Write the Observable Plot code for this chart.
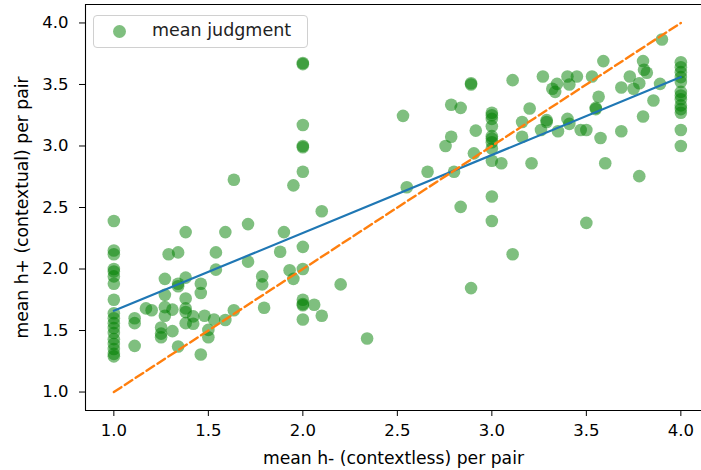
<!DOCTYPE html>
<html>
<head>
<meta charset="utf-8">
<script src="https://cdn.jsdelivr.net/npm/d3@7"></script>
<script src="https://cdn.jsdelivr.net/npm/@observablehq/plot@0.6"></script>
<style>
  html, body { margin: 0; padding: 0; background: #fff; }
  #wrap { position: relative; width: 701px; height: 470px; overflow: hidden; font-family: "DejaVu Sans", sans-serif; }
  #legend { position: absolute; left: 93px; top: 15px; width: 215px; height: 33px; box-sizing: border-box;
    border: 1px solid #d0d0d0; border-radius: 4px; background: rgba(255,255,255,0.8); }
  #legend .dot { position: absolute; left: 19px; top: 9px; width: 13px; height: 13px; border-radius: 50%; background: rgba(0,128,0,0.5); }
  #legend .lab { position: absolute; left: 58px; top: 4px; font-size: 17.5px; color: #222; white-space: nowrap; }
</style>
</head>
<body>
<div id="wrap">
  <div id="chart"></div>
  <div id="legend"><div class="dot"></div><div class="lab">mean judgment</div></div>
</div>
<script>
// mean h- (contextless) per pair
const hMinus = [
 1,1,1,1,1,1,1,1,1,1,1,1,1,1,1,1,1,1,
 1.11,1.11,1.11, 1.17, 1.2, 1.25,1.25,1.25, 1.27,1.27,1.27,1.27, 1.29, 1.31,1.31, 1.34,1.34,1.34,1.34,
 1.38,1.38,1.38,1.38,1.38,1.38, 1.42,1.42, 1.46,1.46,1.46, 1.48, 1.5,1.5, 1.53, 1.54,1.54, 1.59,1.59,
 1.635,1.635, 1.71,1.71, 1.785,1.785, 1.795, 1.88, 1.9, 1.93, 1.95,1.95,
 2,2,2,2,2,2,2,2,2,2,2,2, 2.06, 2.1,2.1, 2.2, 2.34, 2.53, 2.55, 2.66, 2.755, 2.785,2.785, 2.8, 2.835,2.835,
 2.89,2.89,2.89, 2.905, 2.915,
 3,3,3,3,3,3,3,3,3,3,3, 3.05, 3.11,3.11, 3.16,3.16, 3.2, 3.21, 3.26, 3.27, 3.29,3.29, 3.32, 3.335, 3.345, 3.35,
 3.4,3.4, 3.41,3.41, 3.45, 3.47, 3.5,3.5, 3.53, 3.55,3.55, 3.565, 3.575, 3.59, 3.6,
 3.685,3.685, 3.73, 3.75, 3.78,3.78, 3.8,3.8, 3.805, 3.82, 3.855, 3.89, 3.9,
 4,4,4,4,4,4,4,4,4,4,4,4,4
];
// mean h+ (contextual) per pair
const hPlus = [
 2.39,2.15,2.12,2.0,1.98,1.94,1.88,1.75,1.64,1.6,1.56,1.52,1.48,1.43,1.39,1.35,1.31,1.29,
 1.6,1.56,1.375, 1.68, 1.665, 1.525,1.475,1.445, 1.92,1.79,1.69,1.62, 2.12, 1.67,1.495, 2.135,1.88,1.86,1.37,
 2.3,1.93,1.76,1.68,1.65,1.56, 1.615,1.555, 1.88,1.805,1.305, 1.62, 1.505,1.445, 1.59, 2.135,1.995, 2.3,1.585,
 2.725,1.665, 2.365,2.06, 1.94,1.875, 1.685, 2.14, 2.3, 1.99, 2.68,1.92,
 3.675,3.665,3.17,3.0,2.99,2.79,2.18,2.0,1.75,1.715,1.705,1.59, 1.71, 2.47,1.62, 1.875, 1.435, 3.245, 2.665, 2.79, 3.0, 3.335,3.075, 2.79, 3.31,2.505,
 3.51,3.5,1.845, 2.94, 3.125,
 3.27,3.25,3.22,3.16,3.08,3.06,3.03,2.98,2.88,2.59,2.39, 2.86, 3.535,2.12, 3.195,3.075, 3.305, 2.86, 3.13, 3.565, 3.21,3.195, 3.465, 3.44, 3.505, 3.12,
 3.565,3.22, 3.5,3.18, 3.565, 3.13, 3.13,2.375, 3.565, 3.31,3.3, 3.4, 3.065, 3.69, 2.86,
 3.475,3.12, 3.565, 3.465, 3.51,2.755, 3.69,3.24, 3.62, 3.595, 3.37, 3.505, 3.865,
 3.68,3.64,3.6,3.56,3.52,3.44,3.41,3.38,3.33,3.3,3.27,3.13,3.0
];
// fitted regression line
const fitX = [1, 4];
const fitY = [1.66, 3.56];
// identity line
const diagX = [1, 4];
const diagY = [1, 4];
const tickValues = [1, 1.5, 2, 2.5, 3, 3.5, 4];
const xTitle = "mean h- (contextless) per pair";
const yTitle = "mean h+ (contextual) per pair";

const n = Math.min(hMinus.length, hPlus.length);
const points = d3.range(n).map(i => ({x: hMinus[i], y: hPlus[i]}));
const fit = fitX.map((x, i) => ({x, y: fitY[i]}));
const diag = diagX.map((x, i) => ({x, y: diagY[i]}));

const xMin = 0.85, yMin = 0.85, yMax = 4.15;
const marginLeft = 85, width = 701;
const xMax = xMin + (width - marginLeft) / 189;

const chart = Plot.plot({
  width, height: 470,
  marginLeft, marginRight: 0, marginTop: 4, marginBottom: 60,
  style: {fontFamily: "DejaVu Sans, sans-serif", fontSize: "16.5px", color: "#000", background: "#fff", overflow: "visible"},
  x: {domain: [xMin, xMax]},
  y: {domain: [yMin, yMax]},
  marks: [
    Plot.dot(points, {x: "x", y: "y", r: 6.3, fill: "#008000", fillOpacity: 0.5, stroke: "none"}),
    Plot.line(fit, {x: "x", y: "y", stroke: "#1f77b4", strokeWidth: 2.2}),
    Plot.line(diag, {x: "x", y: "y", stroke: "#ff7f0e", strokeWidth: 2.4, strokeDasharray: "9,4"}),
    Plot.ruleY([yMin], {stroke: "#000", strokeWidth: 1.1}),
    Plot.ruleY([yMax], {stroke: "#000", strokeWidth: 1.1}),
    Plot.ruleX([xMin], {stroke: "#000", strokeWidth: 1.1}),
    Plot.axisX({ticks: tickValues, tickFormat: d3.format(".1f"), tickSize: 6, tickPadding: 8, label: null}),
    Plot.axisY({ticks: tickValues, tickFormat: d3.format(".1f"), tickSize: 6, tickPadding: 11, label: null}),
    Plot.text([xTitle], {text: d => d, frameAnchor: "bottom", dy: 53, fontSize: 17.2, fill: "#000"}),
    Plot.text([yTitle], {text: d => d, frameAnchor: "left", dx: -63, rotate: -90, textAnchor: "middle", fontSize: 17.2, fill: "#000"})
  ]
});
document.getElementById("chart").appendChild(chart);
</script>
</body>
</html>
